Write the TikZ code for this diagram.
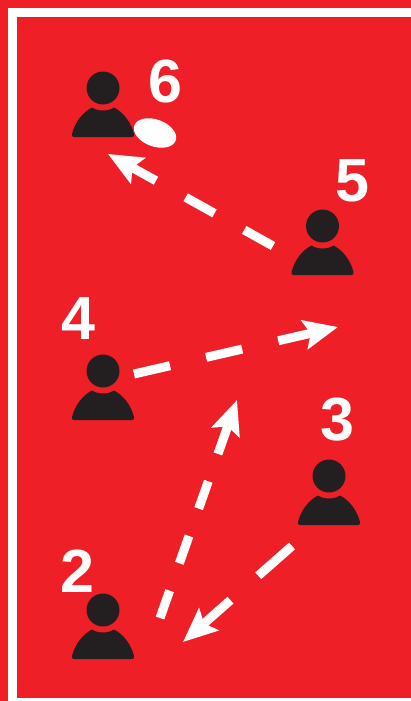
\documentclass[tikz,border=0pt]{standalone}
\usepackage{fontspec}
\setmainfont{Liberation Sans}
\usetikzlibrary{arrows.meta,shapes.geometric}
\definecolor{pitch}{HTML}{EF1F28}
\definecolor{ink}{HTML}{231F20}
\tikzset{
  playerhead/.style={circle,fill=ink,draw=none,minimum size=33pt,inner sep=0pt},
  playerbody/.style={fill=ink,draw=none},
  numlabel/.style={text=white,inner sep=0pt,font=\fontsize{61}{61}\bfseries\selectfont},
  flow/.style={draw=white,line width=9pt,-{Stealth[length=34pt,width=29pt,inset=6pt]}},
  ball/.style={ellipse,fill=white,draw=none,minimum width=44pt,minimum height=27pt,inner sep=0pt,rotate=-20},
}
\newcommand{\playerat}[3]{%
  \node[playerhead] (#1) at (#2,#3) {};
  \fill[playerbody,shift={(#2,#3)}]
    (-29,49) .. controls (-31,49) and (-31.5,47.5) .. (-31,46)
    .. controls (-28,34) and (-20,24) .. (-11,19.5)
    .. controls (-8,21.5) and (-4,22.5) .. (0,22.5)
    .. controls (4,22.5) and (8,21.5) .. (11,19.5)
    .. controls (20,24) and (28,34) .. (31,46)
    .. controls (31.5,47.5) and (31,49) .. (29,49) -- cycle;
}
\begin{document}
\begin{tikzpicture}[x=1pt,y=-1pt]
\useasboundingbox (0,0) rectangle (411,701);
\clip (0,0) rectangle (411,701);
\fill[pitch] (0,0) rectangle (411,701);
\draw[white,line width=9pt] (12.5,720) -- (12.5,12.5) -- (430,12.5);
\draw[white,line width=3pt] (0,699.5) -- (411,699.5);
\fill[pitch] (0,0) rectangle (8,701);
\playerat{p6}{103}{88}
\playerat{p5}{322.5}{226}
\playerat{p4}{103}{371}
\playerat{p3}{329}{476}
\playerat{p2}{103}{610}
\node[ball] (oval) at (155,133) {};
\node[numlabel] (n6) at (165,82) {6};
\node[numlabel] (n5) at (352,181) {5};
\node[numlabel] (n4) at (78,319) {4};
\node[numlabel] (n3) at (337,420) {3};
\node[numlabel] (n2) at (77,571) {2};
\coordinate (a5) at (273,246);
\coordinate (b5) at (108,154);
\coordinate (a4) at (134,374);
\coordinate (b4) at (338,327);
\coordinate (a2) at (160,618);
\coordinate (b2) at (237,400);
\coordinate (a3) at (292,546);
\coordinate (b3) at (183,642);
\draw[flow,dash pattern=on 33pt off 34pt] (a5) -- (b5);
\draw[flow,dash pattern=on 37pt off 37pt] (a4) -- (b4);
\draw[flow,dash pattern=on 29pt off 29pt] (a2) -- (b2);
\draw[flow,dash pattern=on 45pt off 37pt] (a3) -- (b3);
\end{tikzpicture}
\end{document}
